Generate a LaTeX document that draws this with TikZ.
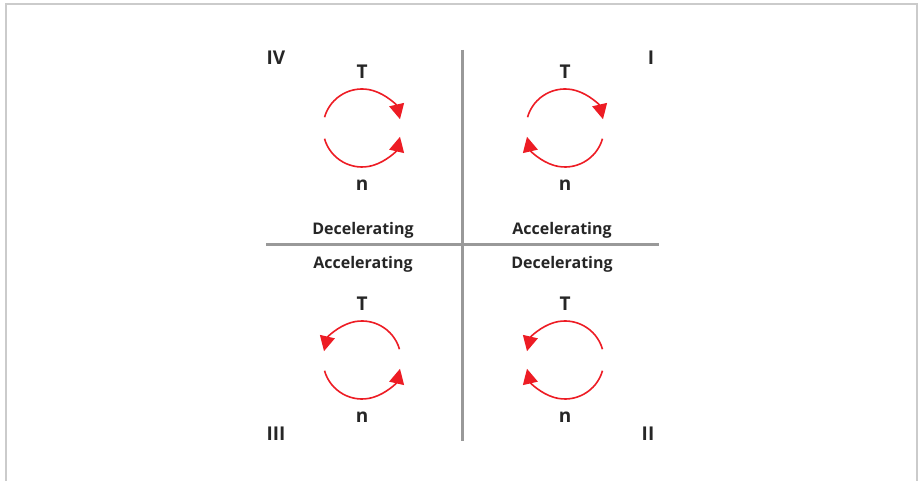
\documentclass[tikz,border=0pt]{standalone}
\usepackage{fontspec}
\setmainfont{Open Sans}
\usetikzlibrary{arrows.meta,calc}
\definecolor{abbred}{HTML}{ED1C24}
\definecolor{axisgray}{HTML}{999999}
\definecolor{framegray}{HTML}{CBCBCB}
\definecolor{textblack}{HTML}{262626}

\begin{document}
\begin{tikzpicture}[
  x=1pt, y=1pt,
  rot/.style={-{Triangle[length=15pt, width=15pt]}, line width=1.6pt, color=abbred},
  axis/.style={line width=3pt, color=axisgray},
  qty/.style={font=\fontsize{19}{19}\selectfont\bfseries, text=textblack},
  quad/.style={font=\fontsize{19}{19}\selectfont\bfseries, text=textblack},
  mode/.style={font=\fontsize{16}{16}\selectfont\bfseries, text=textblack}
]
\useasboundingbox (0,0) rectangle (919,481);
\draw[framegray, line width=1.5pt] (6,0) -- (6,477) -- (917,477) -- (917,0);

% axes
\coordinate (ytop) at (462,431);
\coordinate (ybot) at (462,40);
\coordinate (xleft) at (266,236);
\coordinate (xright) at (659,236);
\draw[axis] (ytop) -- (ybot);
\draw[axis] (xleft) -- (xright);

% centres of the four rotation symbols
\coordinate (c1) at (565,353);
\coordinate (c2) at (565,121);
\coordinate (c3) at (362,121);
\coordinate (c4) at (362,353);

% quadrant IV
\draw[rot] ($(c4)+(164:39)$) arc[start angle=164, end angle=13, radius=39];
\draw[rot] ($(c4)+(-164:39)$) arc[start angle=-164, end angle=-13, radius=39];
% quadrant I
\draw[rot] ($(c1)+(164:39)$) arc[start angle=164, end angle=13, radius=39];
\draw[rot] ($(c1)+(-16:39)$) arc[start angle=-16, end angle=-167, radius=39];
% quadrant III
\draw[rot] ($(c3)+(16:39)$) arc[start angle=16, end angle=167, radius=39];
\draw[rot] ($(c3)+(-164:39)$) arc[start angle=-164, end angle=-13, radius=39];
% quadrant II
\draw[rot] ($(c2)+(16:39)$) arc[start angle=16, end angle=167, radius=39];
\draw[rot] ($(c2)+(-16:39)$) arc[start angle=-16, end angle=-167, radius=39];

% torque and speed labels
\node[qty] (t4) at (362,409) {T};
\node[qty] (n4) at (362,296) {n};
\node[qty] (t1) at (565,409) {T};
\node[qty] (n1) at (565,296) {n};
\node[qty] (t3) at (362,177) {T};
\node[qty] (n3) at (362,64) {n};
\node[qty] (t2) at (565,177) {T};
\node[qty] (n2) at (565,64) {n};

% quadrant numbers
\node[quad] (q4) at (276,423) {IV};
\node[quad] (q1) at (651,423) {I};
\node[quad] (q3) at (276,47) {III};
\node[quad] (q2) at (648,47) {II};

% operating modes
\node[mode] (m4) at (363,251) {Decelerating};
\node[mode] (m1) at (562,251) {Accelerating};
\node[mode] (m3) at (363,217) {Accelerating};
\node[mode] (m2) at (562,217) {Decelerating};
\end{tikzpicture}
\end{document}
